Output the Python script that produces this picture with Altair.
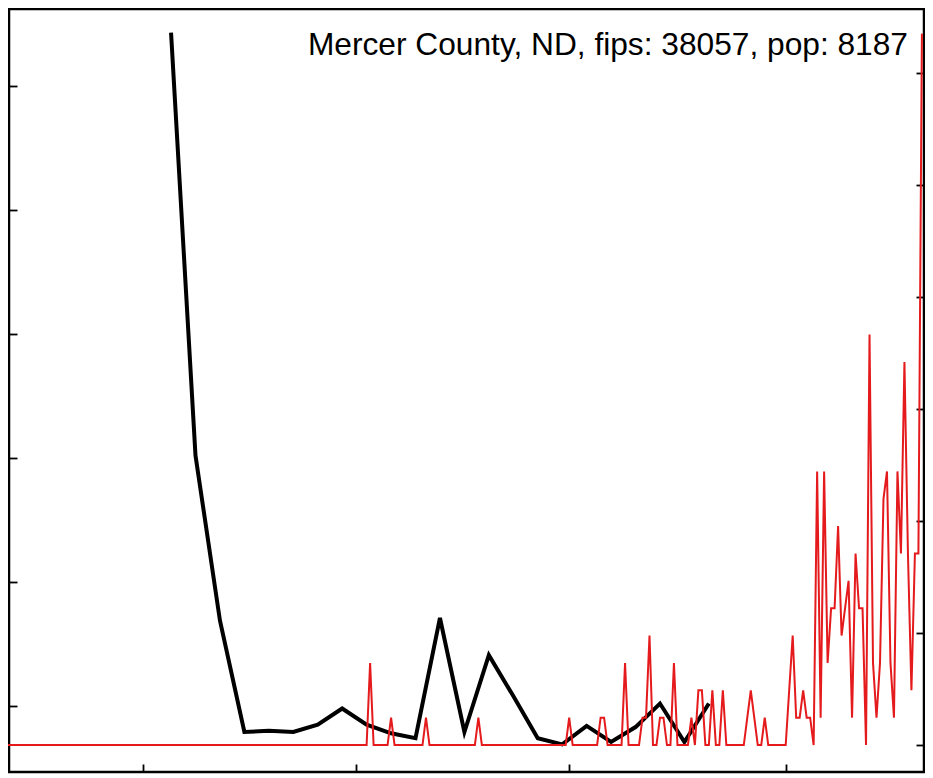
import altair as alt
import pandas as pd

# ---------------- data ----------------
START = "2020-01-22"
END = "2020-10-10"
POP = 8187
LABEL = "Mercer County, ND, fips: 38057, pop: 8187"

# daily new cases (days not listed are 0)
case_dates = [
    "2020-05-05", "2020-05-11", "2020-05-21", "2020-06-05", "2020-07-01",
    "2020-07-10", "2020-07-11", "2020-07-17", "2020-07-22", "2020-07-23",
    "2020-07-24", "2020-07-27", "2020-07-28", "2020-07-31", "2020-08-05",
    "2020-08-07", "2020-08-08", "2020-08-11", "2020-08-14", "2020-08-21",
    "2020-08-22", "2020-08-23", "2020-08-26", "2020-09-02", "2020-09-03",
    "2020-09-04", "2020-09-05", "2020-09-06", "2020-09-07", "2020-09-08",
    "2020-09-10", "2020-09-11", "2020-09-12", "2020-09-13", "2020-09-14",
    "2020-09-15", "2020-09-16", "2020-09-17", "2020-09-18", "2020-09-19",
    "2020-09-20", "2020-09-21", "2020-09-22", "2020-09-23", "2020-09-25",
    "2020-09-26", "2020-09-27", "2020-09-28", "2020-09-29", "2020-09-30",
    "2020-10-01", "2020-10-02", "2020-10-03", "2020-10-04", "2020-10-05",
    "2020-10-06", "2020-10-07", "2020-10-08", "2020-10-09", "2020-10-10",
]
case_counts = [
    3, 1, 1, 1, 1,
    1, 1, 3, 1, 1,
    4, 1, 1, 3, 1,
    2, 2, 2, 2, 1,
    2, 1, 1, 2, 4,
    1, 1, 2, 1, 1,
    10, 1, 10, 3, 5,
    5, 8, 4, 5, 6,
    1, 7, 5, 5, 15,
    3, 1, 3, 9, 10,
    3, 1, 10, 7, 14,
    7, 2, 7, 7, 26,
]

# weekly series (black line), left axis units
week_start = "2020-03-09"
week_values = [
    6.43, 3.02, 1.69, 0.79, 0.80, 0.79, 0.85, 0.98, 0.85, 0.78,
    0.74, 1.71, 0.79, 1.41, 1.08, 0.74, 0.69, 0.84, 0.71, 0.83,
    1.02, 0.71, 1.02,
]

# axis tick positions
x_tick_dates = ["2020-03-01", "2020-05-01", "2020-07-01", "2020-09-01"]
left_ticks = [1, 2, 3, 4, 5, 6]
right_ticks = [0, 50, 100, 150, 200, 250, 300]

# ---------------- build tables ----------------
start = pd.Timestamp(START)
days = pd.date_range(START, END, freq="D")
daily = pd.DataFrame({"date": days})
lookup = dict(zip(pd.to_datetime(case_dates), case_counts))
daily["cases"] = [lookup.get(d, 0) for d in daily["date"]]
daily["day"] = (daily["date"] - start).dt.days
daily["per100k"] = daily["cases"] * 100000 / POP

weekly = pd.DataFrame({
    "date": pd.date_range(week_start, periods=len(week_values), freq="7D"),
    "value": week_values,
})
weekly["day"] = (weekly["date"] - start).dt.days

x_ticks = [int((pd.Timestamp(d) - start).days) for d in x_tick_dates]

W, H = 915, 763

axis_style = dict(offset=-8, tickSize=8, labels=False, domain=False, grid=False,
                  title=None, tickColor="black", tickWidth=1.8)

x_enc = alt.X(
    "day:Q",
    scale=alt.Scale(domain=[0.6, 262.6], nice=False, zero=False),
    axis=alt.Axis(values=x_ticks, orient="bottom", **axis_style),
)

black = alt.Chart(weekly).mark_line(color="black", strokeWidth=4).encode(
    x=x_enc,
    y=alt.Y("value:Q",
            scale=alt.Scale(domain=[0.4677, 6.621], nice=False, zero=False),
            axis=alt.Axis(values=left_ticks, orient="left", **axis_style)),
)

red = alt.Chart(daily).mark_line(color="#e41a1c", strokeWidth=2).encode(
    x=x_enc,
    y=alt.Y("per100k:Q",
            scale=alt.Scale(domain=[-12.05, 328.57], nice=False, zero=False),
            axis=alt.Axis(values=right_ticks, orient="right", **axis_style)),
)

label = alt.Chart(pd.DataFrame({"label": [LABEL]})).mark_text(
    align="right", baseline="alphabetic", fontSize=31.7,
    font="Liberation Sans", color="black",
).encode(text="label:N", x=alt.value(899), y=alt.value(46))

chart = (
    alt.layer(black, red, label)
    .resolve_scale(y="independent")
    .resolve_axis(y="independent")
    .properties(
        width=W, height=H,
        background="white",
        autosize=alt.AutoSizeParams(type="none"),
        padding={"left": 1, "top": 1, "right": 1, "bottom": 2},
    )
    .configure_view(stroke="black", strokeWidth=2.5)
)

chart.save("out.html", embed_options={"renderer": "svg", "actions": False})
